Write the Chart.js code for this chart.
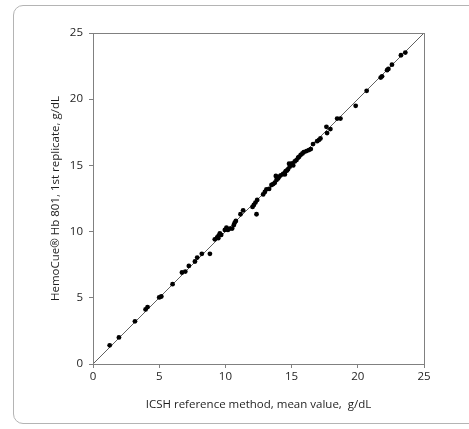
<!DOCTYPE html>
<html>
<head>
<meta charset="utf-8">
<script src="https://cdn.jsdelivr.net/npm/chart.js@4"></script>
<style>
  body { margin: 0; background: #fff; }
  #frame {
    position: absolute; left: 13px; top: 5px; width: 470px; height: 419px;
    border: 1px solid #b4b4b4; border-radius: 10px; box-sizing: border-box;
  }
  #wrap { position: absolute; left: 0; top: 0; width: 469px; height: 429px; }
</style>
</head>
<body>
<div id="frame"></div>
<div id="wrap"><canvas id="chartCanvas" width="469" height="429"></canvas></div>
<script>
// ICSH reference (x) vs HemoCue Hb 801 1st replicate (y), g/dL
const refValues = [
  1.26, 1.96, 3.17, 3.97, 4.12, 5.0, 5.16, 6.01, 6.72, 6.97,
  7.24, 7.70, 7.87, 8.22, 8.83, 9.2, 9.38, 9.48, 9.58, 9.68,
  9.46, 9.96, 10.08, 10.19, 10.34, 10.51, 10.64, 10.71, 10.79, 11.14,
  11.34, 12.35, 12.05, 12.15, 12.27, 12.4, 12.85, 12.98, 13.1, 13.3,
  13.48, 13.61, 13.73, 13.81, 13.86, 13.98, 14.06, 14.18, 14.36, 14.49,
  14.56, 14.49, 14.66, 14.74, 14.86, 14.81, 14.94, 15.04, 15.12, 15.24,
  15.37, 15.49, 15.57, 15.69, 15.82, 15.92, 16.12, 16.3, 16.45, 16.62,
  16.93, 17.08, 17.18, 17.63, 17.68, 17.93, 18.44, 18.69, 19.84, 20.67,
  21.73, 21.83, 22.21, 22.31, 22.58, 23.26, 23.59
];
const hbValues = [
  1.41, 2.01, 3.22, 4.12, 4.30, 5.03, 5.10, 6.03, 6.91, 6.98,
  7.41, 7.74, 8.04, 8.32, 8.32, 9.42, 9.57, 9.67, 9.87, 9.75,
  9.5, 10.13, 10.3, 10.13, 10.23, 10.23, 10.5, 10.68, 10.8, 11.31,
  11.61, 11.31, 11.86, 12.01, 12.19, 12.39, 12.81, 12.99, 13.19, 13.22,
  13.52, 13.59, 13.69, 14.2, 13.9, 14.02, 14.15, 14.25, 14.35, 14.45,
  14.57, 14.32, 14.62, 14.72, 14.9, 15.13, 15.1, 15.15, 15.0, 15.3,
  15.4, 15.58, 15.65, 15.8, 15.9, 16.0, 16.08, 16.16, 16.23, 16.61,
  16.83, 16.93, 17.04, 17.91, 17.44, 17.74, 18.54, 18.54, 19.5, 20.63,
  21.63, 21.73, 22.19, 22.29, 22.61, 23.32, 23.52
];
// line of identity
const lineX = [0, 25];
const lineY = [0, 25];
const tickValues = [0, 5, 10, 15, 20, 25];

const fontFamily = "'Open Sans', sans-serif";
const textColor = "#1e1e1e";
const axisColor = "#808080";

const points = refValues.map((x, i) => ({ x: x, y: hbValues[i] }));
const identity = lineX.map((x, i) => ({ x: x, y: lineY[i] }));

// draws the box round the plot area
const plotBox = {
  id: "plotBox",
  afterDraw(chart) {
    const { ctx, chartArea: a } = chart;
    ctx.save();
    ctx.strokeStyle = axisColor;
    ctx.lineWidth = 1;
    ctx.strokeRect(Math.round(a.left) + 0.5, Math.round(a.top) + 0.5,
      Math.round(a.right - a.left), Math.round(a.bottom - a.top));
    ctx.restore();
  }
};

const ctx = document.getElementById("chartCanvas").getContext("2d");
new Chart(ctx, {
  type: "scatter",
  data: {
    datasets: [
      {
        label: "identity",
        data: identity,
        showLine: true,
        borderColor: "#606060",
        borderWidth: 1,
        pointRadius: 0,
        order: 2
      },
      {
        label: "samples",
        data: points,
        backgroundColor: "#000",
        borderColor: "#000",
        pointRadius: 2.4,
        borderWidth: 0,
        order: 1
      }
    ]
  },
  options: {
    responsive: false,
    animation: false,
    layout: { padding: { left: 45, right: 45, top: 33, bottom: 0 } },
    plugins: { legend: { display: false }, tooltip: { enabled: false } },
    scales: {
      x: {
        type: "linear",
        min: 0, max: 25,
        afterBuildTicks(scale) { scale.ticks = tickValues.map(v => ({ value: v })); },
        afterFit(scale) { scale.height = 65; },
        grid: { drawOnChartArea: false, drawTicks: true, tickLength: 4, color: axisColor },
        border: { color: axisColor },
        ticks: { padding: 2, color: textColor, font: { family: fontFamily, size: 11.5 }, maxRotation: 0 },
        title: {
          display: true,
          text: "ICSH reference method, mean value,  g/dL",
          color: textColor,
          font: { family: fontFamily, size: 11.5 },
          padding: { top: 0, bottom: 17 }
        }
      },
      y: {
        type: "linear",
        min: 0, max: 25,
        afterBuildTicks(scale) { scale.ticks = tickValues.map(v => ({ value: v })); },
        afterFit(scale) { scale.width = 48; },
        grid: { drawOnChartArea: false, drawTicks: true, tickLength: 4, color: axisColor },
        border: { color: axisColor },
        ticks: { padding: 6, color: textColor, font: { family: fontFamily, size: 11.5 } },
        title: {
          display: true,
          text: "HemoCue\u00AE Hb 801, 1st replicate, g/dL",
          color: textColor,
          font: { family: fontFamily, size: 11.5 },
          padding: { top: 4, bottom: 0 }
        }
      }
    }
  },
  plugins: [plotBox]
});
</script>
</body>
</html>
